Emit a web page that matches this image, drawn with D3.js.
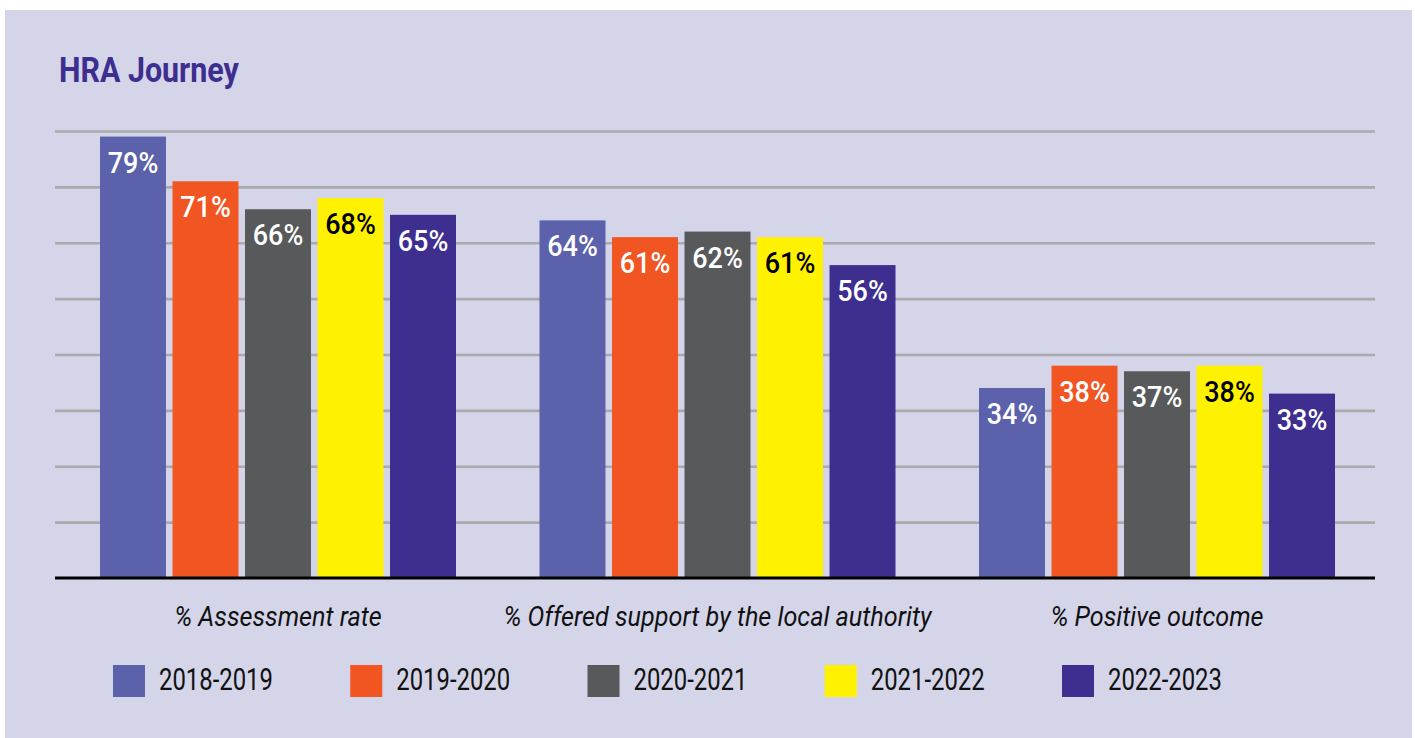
<!DOCTYPE html>
<html>
<head>
<meta charset="utf-8">
<script src="https://cdn.jsdelivr.net/npm/d3@7"></script>
<style>
  html, body { margin: 0; padding: 0; background: #ffffff; }
  svg { display: block; }
  .narrow { font-family: "Liberation Sans Narrow", "Arial Narrow", "Roboto", sans-serif; }
</style>
</head>
<body>
<svg id="chart" width="1415" height="738"></svg>
<script>
// ---- Data ----
const title = "HRA Journey";
const categories = ["% Assessment rate", "% Offered support by the local authority", "% Positive outcome"];
const seriesNames = ["2018-2019", "2019-2020", "2020-2021", "2021-2022", "2022-2023"];
const values2018_2019 = [79, 64, 34];
const values2019_2020 = [71, 61, 38];
const values2020_2021 = [66, 62, 37];
const values2021_2022 = [68, 61, 38];
const values2022_2023 = [65, 56, 33];
const gridTicks = [10, 20, 30, 40, 50, 60, 70, 80];
const seriesColors = ["#5b61ab", "#f05522", "#58595b", "#fff200", "#3d2e8f"];
const labelColors = ["#ffffff", "#ffffff", "#ffffff", "#000000", "#ffffff"];

const seriesValues = [values2018_2019, values2019_2020, values2020_2021, values2021_2022, values2022_2023];
const rows = categories.map((c, i) => ({
  category: c,
  items: seriesNames.map((s, j) => ({ series: s, value: seriesValues[j][i], idx: j }))
}));

// ---- Layout ----
const svg = d3.select("#chart");

svg.append("rect").attr("x", 5).attr("y", 10).attr("width", 1407).attr("height", 728).attr("fill", "#d5d5ea");

svg.append("text")
  .attr("class", "narrow")
  .attr("transform", "translate(59,82) scale(0.845,1)")
  .attr("font-size", 36).attr("font-weight", "bold")
  .attr("fill", "#3d2e8f")
  .text(title);

const plot = { left: 55, right: 1375, top: 131, bottom: 578 };

const y = d3.scaleLinear().domain([0, 80]).range([plot.bottom, plot.top]);
const x0 = d3.scaleBand().domain(categories).range([100, 1335]).paddingInner(0.19).paddingOuter(0);
const x1 = d3.scaleBand().domain(seriesNames).range([0, x0.bandwidth()]).paddingInner(0.09).paddingOuter(0);
const color = d3.scaleOrdinal().domain(seriesNames).range(seriesColors);
const labelColor = d3.scaleOrdinal().domain(seriesNames).range(labelColors);

// gridlines
const grid = svg.append("g")
  .attr("transform", `translate(${plot.left},0)`)
  .call(d3.axisLeft(y).tickValues(gridTicks).tickSize(-(plot.right - plot.left)).tickFormat(""));
grid.select(".domain").remove();
grid.selectAll(".tick line").attr("stroke", "#a9a9ae").attr("stroke-width", 2.6);

// bars
const groups = svg.append("g").selectAll("g").data(rows).join("g")
  .attr("transform", d => `translate(${x0(d.category)},0)`);

groups.selectAll("rect").data(d => d.items).join("rect")
  .attr("x", d => x1(d.series))
  .attr("y", d => y(d.value))
  .attr("width", x1.bandwidth())
  .attr("height", d => y(0) - y(d.value))
  .attr("fill", d => color(d.series));

groups.selectAll("text").data(d => d.items).join("text")
  .attr("class", "narrow")
  .attr("transform", d => `translate(${x1(d.series) + x1.bandwidth() / 2},${y(d.value) + 36}) scale(0.9,1)`)
  .attr("text-anchor", "middle")
  .attr("font-size", 30)
  .attr("font-weight", 500)
  .attr("fill", d => labelColor(d.series))
  .text(d => d.value + "%");

// x axis category labels
const xAxis = svg.append("g")
  .attr("transform", `translate(0,${plot.bottom})`)
  .call(d3.axisBottom(x0).tickSize(0).tickPadding(28));
xAxis.select(".domain").remove();
xAxis.selectAll(".tick text")
  .attr("class", "narrow")
  .attr("font-size", 28)
  .attr("font-style", "italic")
  .attr("fill", "#111")
  .attr("dy", "0.71em")
  .attr("transform", "scale(0.9,1)");

// baseline
svg.append("line")
  .attr("x1", plot.left).attr("x2", plot.right)
  .attr("y1", y(0)).attr("y2", y(0))
  .attr("stroke", "#000").attr("stroke-width", 2.8);

// legend
const lx = d3.scalePoint().domain(seriesNames).range([113, 1062]);
const legend = svg.append("g").selectAll("g").data(seriesNames).join("g")
  .attr("transform", d => `translate(${lx(d)},665)`);
legend.append("rect").attr("width", 32).attr("height", 32).attr("fill", d => color(d));
legend.append("text")
  .attr("class", "narrow")
  .attr("transform", "translate(46,25) scale(0.77,1)")
  .attr("font-size", 31)
  .attr("fill", "#111")
  .text(d => d);
</script>
</body>
</html>
